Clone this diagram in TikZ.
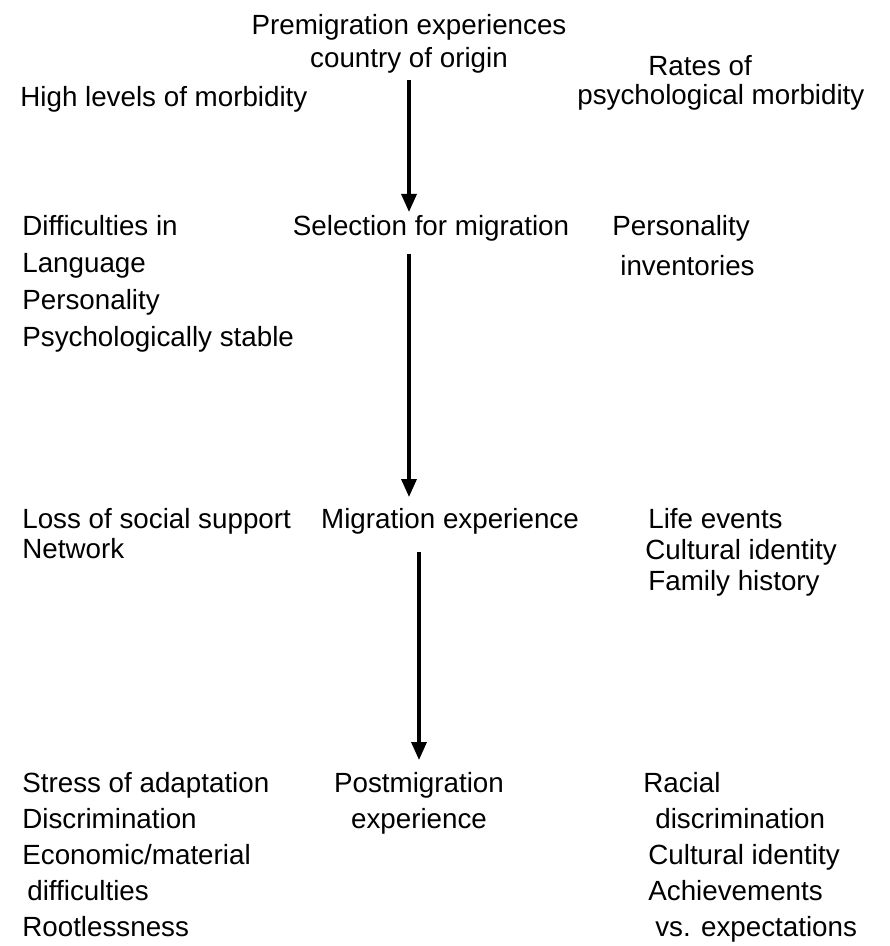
\documentclass[tikz,border=0pt]{standalone}
\usepackage{fontspec}
\setmainfont{Liberation Sans}
\usetikzlibrary{arrows.meta}

\tikzset{
  txt/.style={inner sep=0pt, align=left, font=\fontsize{15.8}{20.5}\selectfont},
  mid/.style={inner sep=0pt, align=center, font=\fontsize{15.8}{20.5}\selectfont},
  flow/.style={line width=1.9pt, -{Triangle[length=0.36cm,width=0.3cm]}}
}

\begin{document}
\begin{tikzpicture}
    \useasboundingbox (0,0) rectangle (17.78,-18.92);
    % top row
    \node[mid, anchor=north, font=\fontsize{15.8}{18.8}\selectfont] (origin) at (8.18,-0.28) {Premigration experiences\\country of origin};
    \node[txt, anchor=north west] (morb) at (0.4,-1.72) {High levels of morbidity};
    \node[txt, anchor=north west, font=\fontsize{15.8}{16.8}\selectfont] (rates) at (11.54,-1.1) {\hspace*{1.42cm}Rates of\\psychological morbidity};
    % selection
    \node[txt, anchor=north west, font=\fontsize{15.8}{21}\selectfont] (diff) at (0.44,-4.3) {Difficulties in\\Language\\Personality\\Psychologically stable};
    \node[mid, anchor=north] (select) at (8.62,-4.3) {Selection for migration};
    \node[txt, anchor=north west, font=\fontsize{15.8}{23}\selectfont] (pers) at (12.24,-4.3) {Personality\\\hspace*{0.16cm}inventories};
    % migration
    \node[txt, anchor=north west, font=\fontsize{15.8}{17.1}\selectfont] (loss) at (0.44,-10.16) {Loss of social support\\Network};
    \node[mid, anchor=north] (migr) at (9.0,-10.16) {Migration experience};
    \node[txt, anchor=north west, font=\fontsize{15.8}{17.6}\selectfont] (life) at (12.9,-10.16) {\hspace*{0.06cm}Life events\\Cultural identity\\\hspace*{0.06cm}Family history};
    % postmigration
    \node[txt, anchor=north west] (stress) at (0.44,-15.44) {Stress of adaptation\\Discrimination\\Economic/material\\\hspace*{0.1cm}difficulties\\Rootlessness};
    \node[mid, anchor=north] (post) at (8.38,-15.44) {Postmigration\\experience};
    \node[txt, anchor=north west] (racial) at (12.86,-15.44) {Racial\\\hspace*{0.24cm}discrimination\\\hspace*{0.1cm}Cultural identity\\\hspace*{0.1cm}Achievements\\\hspace*{0.24cm}vs. expectations};
    % arrows
    \draw[flow, shorten <=0.12cm, shorten >=0.06cm] (origin.south) -- (select.north -| origin.south);
    \draw[flow, shorten <=0.24cm, shorten >=0.22cm] (select.south -| origin.south) -- (migr.north -| origin.south);
    \draw[flow, shorten <=0.34cm, shorten >=0.24cm] (migr.south -| post.north) -- (post.north);
\end{tikzpicture}
\end{document}
